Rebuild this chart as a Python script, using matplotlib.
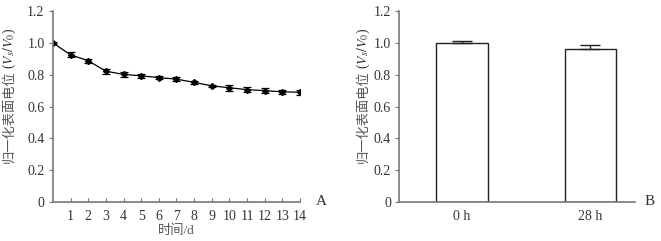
import numpy as np
import matplotlib
matplotlib.use("Agg")
import matplotlib.pyplot as plt

plt.rcParams['font.family'] = ['Liberation Serif', 'Noto Sans CJK SC']
plt.rcParams['font.size'] = 10
plt.rcParams['mathtext.fontset'] = 'stix'

# panel A data
days = list(range(15))
potential = [1.0, 0.925, 0.888, 0.822, 0.802, 0.793, 0.782, 0.772, 0.752,
             0.730, 0.718, 0.706, 0.700, 0.692, 0.690]
potential_err = [0.004, 0.015, 0.012, 0.015, 0.015, 0.013, 0.010, 0.013, 0.010,
                 0.008, 0.018, 0.017, 0.016, 0.013, 0.015]

# panel B data
groups = ['0 h', '28 h']
bar_vals = [1.0, 0.96]
bar_err = [0.012, 0.027]

txt = '#333333'
spine = '#777777'

fig = plt.figure(figsize=(6.61, 2.41), dpi=100)
axA = fig.add_axes([0.080, 0.162, 0.374, 0.792])
axB = fig.add_axes([0.604, 0.162, 0.357, 0.792])


def ylabel(xpix, cjk, math):
    # chinese part and math part are two texts stacked along the rotated label
    t1 = fig.text(xpix / 661, 0.515, cjk, rotation=90, color='#555555', fontsize=9.5,
                  family='Noto Sans CJK SC', ha='center', va='center')
    fig.canvas.draw()
    bb = t1.get_window_extent()
    fig.text(xpix / 661, bb.y1 / fig.bbox.height + 0.005, math, rotation=90, color=txt,
             fontsize=10, ha='center', va='bottom')


axA.errorbar(days, potential, yerr=potential_err, color='black', lw=0.9,
             marker='D', ms=3, capsize=3, elinewidth=0.9, capthick=0.9)
axA.set_xlim(0, 14)
axA.set_ylim(0, 1.2)
axA.set_xticks(days[1:])
axA.set_yticks(np.arange(0, 1.21, 0.2))
axA.set_yticklabels(['0', '0.2', '0.4', '0.6', '0.8', '1.0', '1.2'])
axA.tick_params(axis='x', direction='in', length=3, color=spine, labelcolor=txt, pad=6)
axA.tick_params(axis='y', direction='out', length=3, color=spine, labelcolor=txt, pad=3)
axA.set_xlabel('时间/d', color='#555555', fontsize=9.5, labelpad=1)
axA.text(1.065, 0.0, 'A', transform=axA.transAxes, color=txt, fontsize=11, va='center')

x = np.arange(len(groups))
axB.bar(x, bar_vals, width=0.4, color='white', edgecolor='#222222', lw=1.0)
axB.errorbar(x, bar_vals, yerr=[[0, 0], bar_err], fmt='none', ecolor='#222222',
             capsize=7, elinewidth=1.0, capthick=1.0)
axB.set_xlim(-0.49, 1.35)
axB.set_ylim(0, 1.2)
axB.set_xticks(x)
axB.set_xticklabels(groups)
axB.set_yticks(np.arange(0, 1.21, 0.2))
axB.set_yticklabels(['0', '0.2', '0.4', '0.6', '0.8', '1.0', '1.2'])
axB.tick_params(axis='x', length=0, labelcolor=txt, pad=6)
axB.tick_params(axis='y', direction='out', length=3, color=spine, labelcolor=txt, pad=3)
axB.text(1.04, 0.0, 'B', transform=axB.transAxes, color=txt, fontsize=11, va='center')

for ax in (axA, axB):
    for s in ('top', 'right'):
        ax.spines[s].set_visible(False)
    for s in ('left', 'bottom'):
        ax.spines[s].set_color(spine)
        ax.spines[s].set_linewidth(1.2)

ylabel(9, '归一化表面电位', '($V_s/V_0$)')
ylabel(363, '归一化表面电位', '($V_s/V_0$)')

fig.savefig('out.png', dpi=100)
